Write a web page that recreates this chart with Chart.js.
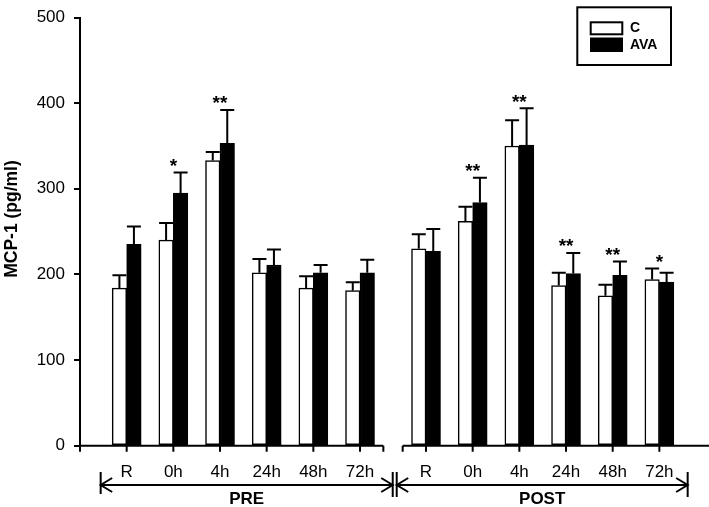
<!DOCTYPE html>
<html>
<head>
<meta charset="utf-8">
<script src="https://cdn.jsdelivr.net/npm/chart.js@4.4.1/dist/chart.umd.min.js"></script>
<style>
html,body{margin:0;padding:0;background:#fff;}
#wrap{width:709px;height:507px;position:relative;}
</style>
</head>
<body>
<div id="wrap"><canvas id="mcp-chart"></canvas></div>
<script>
// ── data ─────────────────────────────────────────────────
var TIMEPOINTS   = ['R','0h','4h','24h','48h','72h'];
var PHASES       = ['PRE','POST'];
var SERIES_NAMES = ['C','AVA'];
var Y_TICKS      = [0,100,200,300,400,500];

var PRE_C       = [184,240,333,202,184,181];
var PRE_C_SD    = [15,20,10,16,14,10];
var PRE_AVA     = [235,295,353,211,202,202];
var PRE_AVA_SD  = [21,24,39,18,9,15];
var POST_C      = [230,262,350,187,175,194];
var POST_C_SD   = [17,17,30,15,13,13];
var POST_AVA    = [227,284,351,201,199,191];
var POST_AVA_SD = [26,29,43,24,16,11];
var PRE_SIG     = ['','*','**','','',''];
var POST_SIG    = ['','**','**','**','**','*'];

// ── layout helpers (x in "slot" units) ─────────────────
var POST_SHIFT = 6.414;
var FONT = '"Liberation Sans", Arial, sans-serif';

function slotX(phase, i){ return i + 1 + (phase === 1 ? POST_SHIFT : 0); }
function pts(phase, vals){ return vals.map(function(v,i){ return {x:slotX(phase,i), y:v}; }); }

var cMeans  = PRE_C.concat(POST_C),   cSd  = PRE_C_SD.concat(POST_C_SD);
var aMeans  = PRE_AVA.concat(POST_AVA), aSd = PRE_AVA_SD.concat(POST_AVA_SD);
var sigs    = PRE_SIG.concat(POST_SIG);
var slots   = TIMEPOINTS.map(function(t,i){return slotX(0,i);}).concat(TIMEPOINTS.map(function(t,i){return slotX(1,i);}));

var decor = {
  id:'mcpDecor',
  afterDatasetsDraw:function(chart){
    var ctx = chart.ctx, y = chart.scales.y;
    var sets = [[cMeans,cSd],[aMeans,aSd]];
    ctx.save();
    ctx.strokeStyle = '#000'; ctx.lineWidth = 2;
    sets.forEach(function(s, d){
      chart.getDatasetMeta(d).data.forEach(function(bar, i){
        var top = y.getPixelForValue(s[0][i] + s[1][i]);
        ctx.beginPath();
        ctx.moveTo(bar.x, bar.y); ctx.lineTo(bar.x, top);
        ctx.moveTo(bar.x - 7, top); ctx.lineTo(bar.x + 7, top);
        ctx.stroke();
      });
    });
    // significance stars
    ctx.fillStyle = '#000';
    ctx.font = 'bold 19px ' + FONT;
    ctx.textAlign = 'center'; ctx.textBaseline = 'middle';
    sigs.forEach(function(s, k){
      if (!s) return;
      var top = Math.max(cMeans[k]+cSd[k], aMeans[k]+aSd[k]);
      ctx.fillText(s, chart.scales.x.getPixelForValue(slots[k]), y.getPixelForValue(top) - 6);
    });
    ctx.restore();
  },
  afterDraw:function(chart){
    var ctx = chart.ctx, x = chart.scales.x, area = chart.chartArea;
    var by = area.bottom;
    ctx.save();
    ctx.strokeStyle = '#000'; ctx.fillStyle = '#000'; ctx.lineWidth = 2;

    // split x axis
    var segs = [[0, 6.5], [0.5 + POST_SHIFT, null]];
    segs.forEach(function(sg, p){
      var x0 = x.getPixelForValue(sg[0]);
      var x1 = sg[1] === null ? chart.width : x.getPixelForValue(sg[1]);
      ctx.beginPath();
      ctx.moveTo(x0, by); ctx.lineTo(x1, by);
      ctx.moveTo(x0, by); ctx.lineTo(x0, by + 6);
      if (sg[1] !== null) { ctx.moveTo(x1, by); ctx.lineTo(x1, by + 6); }
      TIMEPOINTS.forEach(function(t, i){
        var px = x.getPixelForValue(slotX(p, i));
        ctx.moveTo(px, by); ctx.lineTo(px, by + 6);
      });
      ctx.stroke();
    });

    // tick labels
    ctx.font = '17px ' + FONT;
    ctx.textAlign = 'center'; ctx.textBaseline = 'middle';
    PHASES.forEach(function(ph, p){
      TIMEPOINTS.forEach(function(t, i){
        ctx.fillText(t, x.getPixelForValue(slotX(p, i)), 472);
      });
    });

    // phase arrows
    var ay = 485;
    function head(tx, dir){
      ctx.beginPath();
      ctx.moveTo(tx + dir*11.5, ay - 7); ctx.lineTo(tx, ay); ctx.lineTo(tx + dir*11.5, ay + 7);
      ctx.stroke();
    }
    function bar(tx, y0, y1){ ctx.beginPath(); ctx.moveTo(tx, y0); ctx.lineTo(tx, y1); ctx.stroke(); }
    var arrows = [
      [x.getPixelForValue(slotX(0,0)) - 26, x.getPixelForValue(slotX(0,5)) + 32.7],
      [x.getPixelForValue(slotX(1,0)) - 29.3, x.getPixelForValue(slotX(1,5)) + 28.3]
    ];
    ctx.font = 'bold 17px ' + FONT;
    arrows.forEach(function(a, p){
      ctx.beginPath(); ctx.moveTo(a[0], ay); ctx.lineTo(a[1], ay); ctx.stroke();
      head(a[0], 1); head(a[1], -1);
      bar(a[0], 472, p === 0 ? 494 : 497);
      bar(a[1], 472, 497);
      ctx.fillText(PHASES[p], (a[0] + a[1]) / 2, 499);
    });

    // y title
    ctx.save();
    ctx.translate(12, 219);
    ctx.rotate(-Math.PI / 2);
    ctx.font = 'bold 17.5px ' + FONT;
    ctx.fillText('MCP-1 (pg/ml)', 0, 0);
    ctx.restore();

    // legend
    ctx.lineWidth = 2;
    ctx.strokeRect(577.3, 7.3, 93.7, 57.7);
    var ds = chart.data.datasets;
    ctx.fillStyle = ds[0].backgroundColor; ctx.fillRect(590.7, 22.3, 31.6, 12);
    ctx.strokeRect(590.7, 22.3, 31.6, 12);
    ctx.fillStyle = ds[1].backgroundColor; ctx.fillRect(590, 37.5, 33, 14.5);
    ctx.fillStyle = '#000';
    ctx.font = 'bold 14px ' + FONT;
    ctx.textAlign = 'left';
    ctx.fillText(ds[0].label, 630, 28.5);
    ctx.fillText(ds[1].label, 630, 45);
    ctx.restore();
  }
};

var chart = new Chart(document.getElementById('mcp-chart'), {
  type:'bar',
  data:{
    datasets:[
      { label:SERIES_NAMES[0], data:pts(0,PRE_C).concat(pts(1,POST_C)),
        backgroundColor:'#ffffff', borderColor:'#000', borderWidth:1.5, borderSkipped:false, barThickness:14.5 },
      { label:SERIES_NAMES[1], data:pts(0,PRE_AVA).concat(pts(1,POST_AVA)),
        backgroundColor:'#000000', borderColor:'#000', borderWidth:1.5, borderSkipped:false, barThickness:14.5 }
    ]
  },
  options:{
    responsive:true, maintainAspectRatio:false, animation:false,
    layout:{padding:{top:8, bottom:61.3, left:0, right:0}},
    plugins:{legend:{display:false}, tooltip:{enabled:false}},
    scales:{
      x:{type:'linear', display:false, offset:false, min:0, max:(709-80)/46.67},
      y:{
        min:0, max:500,
        afterFit:function(s){ s.width = 80; },
        afterBuildTicks:function(s){ s.ticks = Y_TICKS.map(function(v){return {value:v};}); },
        ticks:{color:'#000', padding:9, font:{family:FONT, size:17, lineHeight:1}},
        grid:{drawOnChartArea:false, drawTicks:true, tickLength:6, color:'#000', lineWidth:2},
        border:{display:true, color:'#000', width:2}
      }
    }
  },
  plugins:[decor]
});
</script>
</body>
</html>
